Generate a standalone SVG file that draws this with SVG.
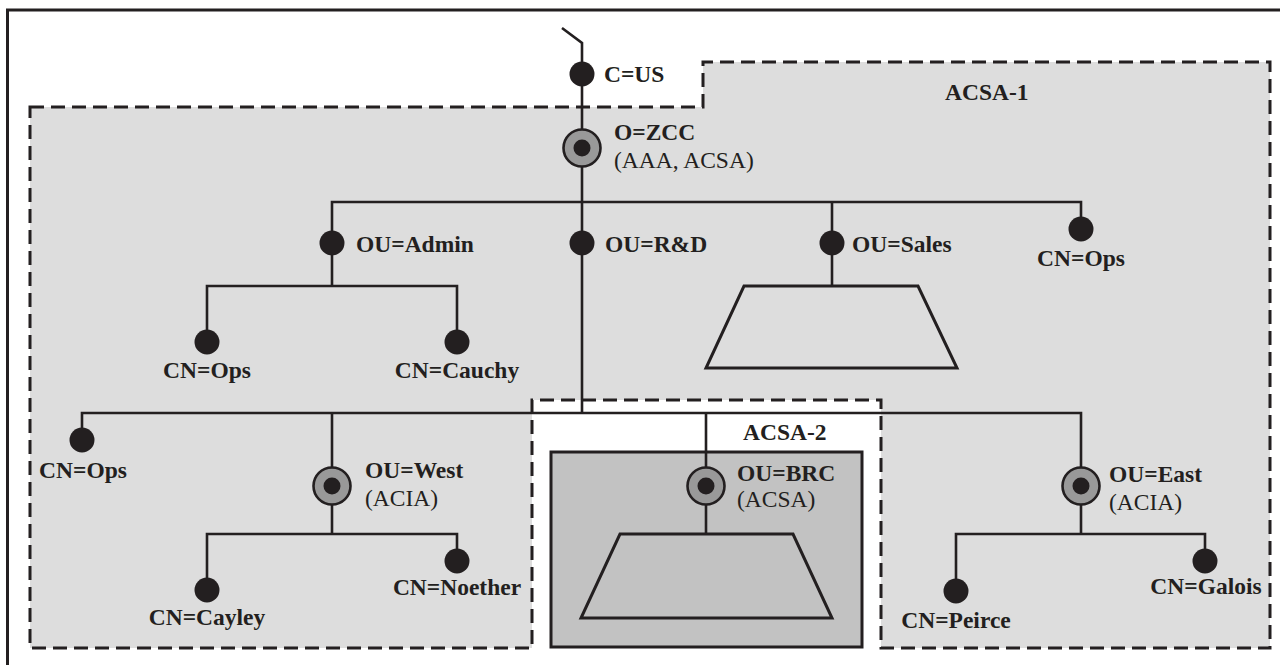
<svg xmlns="http://www.w3.org/2000/svg" width="1280" height="665" viewBox="0 0 1280 665">
<style>
.frame{fill:none;stroke:#231f20;stroke-width:3}
.zone{stroke:#231f20;stroke-width:3;stroke-dasharray:14 7}
.ln{fill:none;stroke:#231f20;stroke-width:2.6}
.trap{fill:none;stroke:#231f20;stroke-width:3;stroke-linejoin:miter}
.dot{fill:#231f20}
.ring{fill:#999999;stroke:#231f20;stroke-width:2.6}
.b{font-family:"Liberation Serif","Times New Roman",serif;font-weight:bold;font-size:23.5px;fill:#231f20}
.r{font-family:"Liberation Serif","Times New Roman",serif;font-size:23.5px;fill:#231f20}
.m{text-anchor:middle}
</style>
<rect width="1280" height="665" fill="#ffffff"/>
<path class="frame" d="M7.5,665 V10 H1280"/>
<g id="acsa-1">
<path class="zone" fill="#dddddd" d="M30,107 H703 V62 H1270 V648 H881 V400 H532 V648 H30 Z"/>
<text class="b" x="945" y="100">ACSA-1</text>
</g>
<g id="acsa-2">
<rect x="551" y="452" width="311" height="195" fill="#c2c2c2" stroke="#231f20" stroke-width="3"/>
<text class="b" x="743" y="440">ACSA-2</text>
</g>
<g id="connectors">
<path class="ln" d="M562,28 L582,43 V413"/>
<path class="ln" d="M332,286 V202 H1081 V229"/>
<path class="ln" d="M832,202 V286"/>
<path class="ln" d="M207,342 V286 H457 V342"/>
<path class="ln" d="M82,440 V413 H1081 V534"/>
<path class="ln" d="M332,413 V534"/>
<path class="ln" d="M706,413 V534"/>
<path class="ln" d="M207,590 V534 H457 V561"/>
<path class="ln" d="M956,591 V534 H1205 V561"/>
</g>
<g id="sales-subtree"><polygon class="trap" points="744,286 918,286 957,368 706,368"/></g>
<g id="brc-subtree"><polygon class="trap" points="620,534 793,534 832,618 581,618"/></g>
<g id="c-us"><circle class="dot" cx="582" cy="74" r="12.5"/><text class="b" x="604" y="82">C=US</text></g>
<g id="o-zcc"><circle class="ring" cx="582" cy="148" r="18.5"/><circle class="dot" cx="582" cy="148" r="8.5"/><text class="b" x="614" y="140">O=ZCC</text><text class="r" x="614" y="168">(AAA, ACSA)</text></g>
<g id="ou-admin"><circle class="dot" cx="332" cy="243" r="12.5"/><text class="b" x="356" y="252">OU=Admin</text></g>
<g id="ou-rd"><circle class="dot" cx="582" cy="243" r="12.5"/><text class="b" x="605" y="252">OU=R&amp;D</text></g>
<g id="ou-sales"><circle class="dot" cx="832" cy="243" r="12.5"/><text class="b" x="852" y="252">OU=Sales</text></g>
<g id="cn-ops-top"><circle class="dot" cx="1081" cy="229" r="12.5"/><text class="b m" x="1081" y="266">CN=Ops</text></g>
<g id="cn-ops-admin"><circle class="dot" cx="207" cy="342" r="12.5"/><text class="b m" x="207" y="378">CN=Ops</text></g>
<g id="cn-cauchy"><circle class="dot" cx="457" cy="342" r="12.5"/><text class="b m" x="457" y="378">CN=Cauchy</text></g>
<g id="cn-ops-rd"><circle class="dot" cx="82" cy="440" r="12.5"/><text class="b m" x="83" y="478">CN=Ops</text></g>
<g id="ou-west"><circle class="ring" cx="332" cy="486" r="18.5"/><circle class="dot" cx="332" cy="486" r="8.5"/><text class="b" x="365" y="478">OU=West</text><text class="r" x="365" y="506">(ACIA)</text></g>
<g id="ou-brc"><circle class="ring" cx="706" cy="486" r="18.5"/><circle class="dot" cx="706" cy="486" r="8.5"/><text class="b" x="737" y="481">OU=BRC</text><text class="r" x="737" y="507">(ACSA)</text></g>
<g id="ou-east"><circle class="ring" cx="1081" cy="486" r="18.5"/><circle class="dot" cx="1081" cy="486" r="8.5"/><text class="b" x="1109" y="482">OU=East</text><text class="r" x="1109" y="510">(ACIA)</text></g>
<g id="cn-cayley"><circle class="dot" cx="207" cy="590" r="12.5"/><text class="b m" x="207" y="625">CN=Cayley</text></g>
<g id="cn-noether"><circle class="dot" cx="457" cy="561" r="12.5"/><text class="b m" x="457" y="595">CN=Noether</text></g>
<g id="cn-peirce"><circle class="dot" cx="956" cy="591" r="12.5"/><text class="b m" x="956" y="628">CN=Peirce</text></g>
<g id="cn-galois"><circle class="dot" cx="1205" cy="561" r="12.5"/><text class="b m" x="1206" y="594">CN=Galois</text></g>
</svg>
